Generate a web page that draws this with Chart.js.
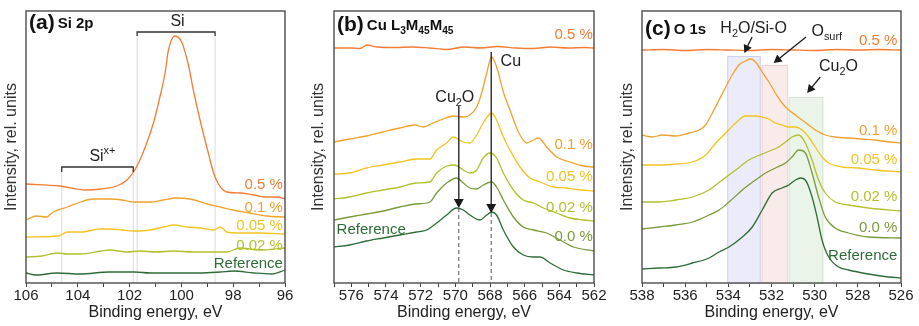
<!DOCTYPE html>
<html>
<head>
<meta charset="utf-8">
<script src="https://cdn.jsdelivr.net/npm/chart.js@4.4.1/dist/chart.umd.min.js"></script>
<style>
  html, body { margin: 0; padding: 0; background: #fff; }
  #wrap { position: relative; width: 919px; height: 326px; overflow: hidden; }
  canvas { position: absolute; top: 0; }
</style>
</head>
<body>
<div id="wrap">
  <canvas id="si" width="300" height="326" style="left:0;width:300px;height:326px"></canvas>
  <canvas id="cu" width="310" height="326" style="left:300px;width:310px;height:326px"></canvas>
  <canvas id="ox" width="310" height="326" style="left:609px;width:310px;height:326px"></canvas>
</div>
<script>
// ---- data (intensity in arbitrary, offset units) ----

// (a) Si 2p
const si05X = [106, 104.7, 103.7, 103.1, 102.5, 102.1, 101.85, 101.6, 101.34, 101.08, 100.83, 100.63, 100.5, 100.25, 99.99, 99.73, 99.54, 99.28, 99.02, 98.7, 98.25, 97.74, 97.22, 96.7, 96.3, 96];
const si05Y = [99, 97, 93, 94, 97, 103, 111, 123, 140, 160, 186, 210, 233, 247, 241, 218, 193, 163, 136, 106, 91, 90, 88, 86, 86, 84];
const si01X = [106, 105.6, 105.2, 104.95, 104.4, 103.9, 103.4, 102.76, 102.3, 101.87, 101.2, 100.7, 100.2, 99.67, 99.0, 98.5, 98.0, 97.35, 96.7, 96];
const si01Y = [63, 67, 66, 71, 76, 81, 84, 84, 83, 81, 81, 83, 85, 84, 79, 76, 73, 70, 67, 66];
const si005X = [106, 104.75, 104.4, 103.9, 103.1, 102.76, 102.3, 101.87, 101.2, 100.7, 100.3, 99.8, 99.28, 98.76, 98.5, 98.25, 97.74, 97, 96];
const si005Y = [46, 47, 51, 51, 54, 54, 53, 52, 53, 56, 58, 56, 55, 53, 56, 51, 50, 50, 49];
const si002X = [106, 105.4, 104.8, 104.4, 103.9, 103.1, 102.76, 102.1, 101.6, 101, 100.3, 99.54, 98.76, 98.25, 97.74, 97, 96];
const si002Y = [26, 27, 30, 29, 29, 32, 33, 31, 32, 31, 32, 31, 31, 31, 35, 33, 35];
const siRefX = [106, 105.6, 104.8, 103.9, 102.8, 101.8, 101.2, 100.3, 99.3, 98.5, 98, 97.2, 96.5, 96];
const siRefY = [10, 8, 10, 9, 11, 11, 10, 10, 10, 11, 12, 10, 9, 13];

// (b) Cu L3M45M45
const cu05X = [577, 576, 575.5, 575.1, 574.5, 573.5, 572.5, 571.5, 570.5, 569.5, 568.5, 567.6, 566.5, 565.5, 564.5, 563.5, 562.5, 562];
const cu05Y = [235, 235, 234.5, 238, 236, 235.5, 236, 235, 233.5, 236, 235, 236.5, 235, 234.5, 236, 235, 235.5, 235];
const cu01X = [577, 576.1, 575.13, 574.17, 573.2, 572.34, 571.86, 571.28, 570.7, 570.12, 569.54, 569.16, 568.77, 568.48, 568.19, 567.91, 567.62, 567.23, 566.85, 566.36, 565.88, 565.5, 565.21, 564.73, 564.15, 563.38, 562.61, 562];
const cu01Y = [141, 144, 147, 151, 155, 158, 156, 160, 164, 167, 166, 168, 176, 190, 210, 226, 216, 191, 173, 151, 140, 143, 145, 136, 126, 121, 117, 116];
const cu005X = [577, 576.1, 575.13, 574.17, 573.2, 572.24, 571.47, 571.08, 570.5, 570.12, 569.54, 569.16, 568.77, 568.39, 567.91, 567.62, 567.23, 566.85, 566.27, 565.69, 565.11, 564.34, 563.57, 562.8, 562];
const cu005Y = [109, 110, 115, 118, 121, 124, 124, 133, 140, 146, 141, 140, 148, 160, 170, 163, 146, 133, 116, 105, 101, 96, 95, 93, 92];
const cu002X = [577, 576.1, 575.13, 574.17, 573.2, 572.24, 571.47, 571.08, 570.5, 570.03, 569.54, 569.16, 568.77, 568.39, 568.0, 567.62, 567.23, 566.65, 566.08, 565.5, 564.92, 564.15, 563.38, 562.61, 562];
const cu002Y = [84, 86, 90, 93, 96, 100, 101, 110, 117, 118, 113, 110, 113, 125, 130, 125, 110, 93, 83, 80, 75, 70, 65, 63, 62];
const cu00X = [577, 576.1, 575.13, 574.17, 573.2, 572.24, 571.47, 571.08, 570.5, 569.93, 569.54, 569.16, 568.77, 568.39, 567.91, 567.62, 567.23, 566.65, 566.08, 565.5, 564.73, 563.96, 563.18, 562];
const cu00Y = [63, 66, 69, 72, 76, 79, 81, 90, 100, 105, 100, 95, 94, 98, 101, 96, 83, 66, 56, 53, 50, 43, 36, 32];
const cuRefX = [577, 576.1, 575.13, 574.17, 573.2, 572.24, 571.66, 571.08, 570.5, 569.93, 569.54, 569.16, 568.58, 568.19, 567.91, 567.62, 567.23, 566.65, 566.08, 565.5, 565.11, 564.53, 563.76, 562.99, 562];
const cuRefY = [36, 38, 42, 45, 48, 51, 53, 60, 68, 75, 73, 68, 63, 68, 71, 68, 53, 36, 28, 26, 26, 20, 13, 10, 8];

// (c) O 1s
const ox05X = [538, 537, 536, 535, 534, 533, 532, 531, 530, 529, 528, 527, 526];
const ox05Y = [233, 233.5, 232.5, 233.5, 233, 232.5, 233.5, 233, 232.5, 233.5, 233, 233.5, 233];
const ox01X = [538, 537.51, 537.05, 536.43, 535.82, 535.35, 535.05, 534.74, 534.43, 534.12, 533.82, 533.51, 533.2, 532.97, 532.74, 532.43, 532.12, 531.82, 531.51, 531.2, 530.89, 530.58, 530.28, 529.97, 529.51, 529.05, 528.43, 527.82, 527.2, 526.58, 526];
const ox01Y = [148, 146, 148, 147, 150, 153, 158, 170, 183, 196, 208, 218, 222, 224, 221, 211, 201, 190, 180, 173, 168, 163, 158, 153, 148, 146, 145, 144, 143, 141, 140];
const ox005X = [538, 537.2, 536.43, 535.66, 535.05, 534.58, 534.12, 533.66, 533.2, 532.74, 532.43, 532.12, 531.82, 531.51, 531.2, 530.89, 530.58, 530.28, 529.97, 529.66, 529.35, 528.74, 527.97, 527.2, 526];
const ox005Y = [118, 118, 119, 121, 128, 140, 150, 160, 167, 167, 166, 164, 160, 158, 156, 156, 153, 146, 136, 126, 120, 116, 115, 113, 111];
const ox002X = [538, 537.2, 536.43, 535.66, 534.89, 534.28, 533.66, 533.05, 532.43, 531.97, 531.66, 531.35, 531.05, 530.74, 530.43, 530.12, 529.82, 529.51, 529.05, 528.43, 527.51, 526];
const ox002Y = [81, 81, 83, 86, 93, 103, 113, 123, 129, 133, 136, 141, 146, 148, 140, 123, 103, 90, 81, 78, 75, 72];
const ox00X = [538, 537.2, 536.43, 535.66, 534.89, 534.43, 533.97, 533.35, 532.74, 532.28, 531.82, 531.35, 531.05, 530.74, 530.43, 530.12, 529.82, 529.51, 529.05, 528.43, 527.51, 526];
const ox00Y = [54, 56, 58, 61, 68, 73, 81, 93, 103, 110, 115, 120, 126, 133, 130, 110, 86, 66, 55, 50, 46, 45];
const oxRefX = [538, 537.2, 536.43, 535.66, 534.89, 534.43, 533.97, 533.35, 532.89, 532.43, 531.97, 531.51, 531.2, 530.89, 530.66, 530.43, 530.12, 529.89, 529.66, 529.35, 528.89, 528.43, 527.51, 526.58, 526];
const oxRefY = [14, 15, 16, 20, 25, 31, 36, 46, 56, 73, 90, 95, 98, 103, 105, 103, 86, 66, 43, 26, 16, 13, 9, 6, 5];

const seriesLabels = ['0.5 %', '0.1 %', '0.05 %', '0.02 %', '0.0 %', 'Reference'];

// ---- styling ----
const family = '"Liberation Sans", Arial, Helvetica, sans-serif';
const colors = ['#f47c35', '#f0a22e', '#f2c421', '#b3c02e', '#7a9a3b', '#2f6b37'];
const inkDark = '#222';

function series(xs, ys, color) {
  return {
    data: xs.map((x, i) => ({ x: x, y: ys[i] })),
    borderColor: color,
    borderWidth: 1.3,
    pointRadius: 0,
    cubicInterpolationMode: 'monotone',
    fill: false
  };
}

function drawRich(ctx, parts, x, y, size, color, align, bold) {
  const fontFor = k => (bold ? 'bold ' : '') + (k ? size * 0.68 : size) + 'px ' + family;
  let w = 0;
  parts.forEach(([t, k]) => { ctx.font = fontFor(k); w += ctx.measureText(t).width; });
  let cx = align === 'right' ? x - w : align === 'center' ? x - w / 2 : x;
  ctx.fillStyle = color;
  ctx.textAlign = 'left';
  ctx.textBaseline = 'middle';
  parts.forEach(([t, k]) => {
    ctx.font = fontFor(k);
    const dy = k === 'sub' ? size * 0.32 : k === 'sup' ? -size * 0.36 : 0;
    ctx.fillText(t, cx, y + dy);
    cx += ctx.measureText(t).width;
  });
  return cx;
}

function arrowHead(ctx, x1, y1, x2, y2, head, color) {
  const a = Math.atan2(y2 - y1, x2 - x1);
  const c = Math.cos(a), s = Math.sin(a);
  ctx.strokeStyle = color;
  ctx.fillStyle = color;
  ctx.lineWidth = 1.3;
  ctx.setLineDash([]);
  ctx.beginPath();
  ctx.moveTo(x1, y1);
  ctx.lineTo(x2 - c * head * 0.8, y2 - s * head * 0.8);
  ctx.stroke();
  ctx.beginPath();
  ctx.moveTo(x2, y2);
  ctx.lineTo(x2 - head * c + head * 0.55 * s, y2 - head * s - head * 0.55 * c);
  ctx.lineTo(x2 - head * c - head * 0.55 * s, y2 - head * s + head * 0.55 * c);
  ctx.closePath();
  ctx.fill();
}

// annotations are given in data units and placed through the chart's scales
function notesPlugin(notes) {
  return {
    id: 'notes',
    beforeDatasetsDraw(chart) {
      const { ctx, chartArea: area, scales: { x, y } } = chart;
      ctx.save();
      (notes.boxes || []).forEach(b => {
        const x1 = x.getPixelForValue(b.from), x2 = x.getPixelForValue(b.to);
        const yt = y.getPixelForValue(b.top);
        ctx.fillStyle = b.fill;
        ctx.fillRect(Math.min(x1, x2), yt, Math.abs(x2 - x1), area.bottom - yt);
        ctx.strokeStyle = b.stroke;
        ctx.lineWidth = 1;
        ctx.strokeRect(Math.min(x1, x2) + 0.5, yt + 0.5, Math.abs(x2 - x1) - 1, area.bottom - yt);
      });
      (notes.guides || []).forEach(g => {
        const gx = x.getPixelForValue(g.x);
        ctx.strokeStyle = '#dcdcdc';
        ctx.lineWidth = 1;
        ctx.beginPath();
        ctx.moveTo(gx, y.getPixelForValue(g.from));
        ctx.lineTo(gx, area.bottom);
        ctx.stroke();
      });
      ctx.restore();
    },
    afterDatasetsDraw(chart) {
      const { ctx, chartArea: area, scales: { x, y } } = chart;
      ctx.save();
      // brackets
      (notes.brackets || []).forEach(b => {
        const x1 = x.getPixelForValue(b.from), x2 = x.getPixelForValue(b.to);
        const yy = y.getPixelForValue(b.y), yd = y.getPixelForValue(b.y - b.drop);
        ctx.strokeStyle = '#333';
        ctx.lineWidth = 1.3;
        ctx.beginPath();
        ctx.moveTo(x1, yd); ctx.lineTo(x1, yy); ctx.lineTo(x2, yy); ctx.lineTo(x2, yd);
        ctx.stroke();
      });
      // arrows, with an optional dashed drop line to the axis
      (notes.arrows || []).forEach(a => {
        const x1 = x.getPixelForValue(a.x1), y1 = y.getPixelForValue(a.y1);
        const x2 = x.getPixelForValue(a.x2), y2 = y.getPixelForValue(a.y2);
        if (a.dashed) {
          ctx.strokeStyle = '#555';
          ctx.lineWidth = 1;
          ctx.setLineDash([4, 3]);
          ctx.beginPath();
          ctx.moveTo(x2, y2); ctx.lineTo(x2, area.bottom);
          ctx.stroke();
          ctx.setLineDash([]);
        }
        arrowHead(ctx, x1, y1, x2, y2, a.head, '#1a1a1a');
      });
      // text labels
      (notes.texts || []).forEach(t => {
        drawRich(ctx, t.parts, x.getPixelForValue(t.x), y.getPixelForValue(t.y), t.size || 15, t.color || '#222', t.align || 'center', false);
      });
      // frame
      ctx.strokeStyle = '#4d4d4d';
      ctx.lineWidth = 1.4;
      ctx.strokeRect(area.left, area.top, area.right - area.left, area.bottom - area.top);
      // panel tag
      const end = drawRich(ctx, [[notes.tag, '']], area.left + 3, area.top + notes.tagY, 21, '#111', 'left', true);
      drawRich(ctx, notes.name, end + 3, area.top + notes.tagY + 1, 15, '#111', 'left', true);
      ctx.restore();
    }
  };
}

function makePanel(id, p) {
  return new Chart(document.getElementById(id), {
    type: 'line',
    data: { datasets: p.datasets },
    options: {
      responsive: false,
      animation: false,
      layout: { padding: { left: 0, top: 11, right: p.padRight, bottom: 0 } },
      plugins: { legend: { display: false }, tooltip: { enabled: false } },
      scales: {
        x: {
          type: 'linear',
          min: p.min,
          max: p.max,
          reverse: true,
          border: { display: false },
          grid: { drawOnChartArea: false, drawTicks: true, tickLength: 4, color: '#444', tickColor: '#444' },
          ticks: {
            stepSize: 1,
            autoSkip: false,
            maxRotation: 0,
            padding: 0,
            color: inkDark,
            font: { size: 15, family: family },
            callback: v => (v % 2 === 0 ? String(v) : '')
          },
          title: {
            display: true,
            text: 'Binding energy, eV',
            color: inkDark,
            font: { size: 16, family: family },
            padding: { top: 0, bottom: 3.4 }
          },
          afterFit(s) { s.height = 43; }
        },
        y: {
          min: 0,
          max: 272,
          border: { display: false },
          grid: { display: false },
          ticks: { display: false },
          title: {
            display: true,
            text: 'Intensity, rel. units',
            color: '#333',
            font: { size: 16, family: family },
            padding: { top: p.titlePad, bottom: 0 }
          },
          afterFit(s) { s.width = p.yWidth; }
        }
      }
    },
    plugins: [notesPlugin(p.notes)]
  });
}

function labelTexts(xAt, align, ys, colorsUsed, names) {
  return names.map((n, i) => ({ x: xAt, y: ys[i], parts: [[n, '']], color: colorsUsed[i], align: align }));
}

// (a)
makePanel('si', {
  min: 96, max: 106, yWidth: 26, padRight: 15, titlePad: 2.4,
  datasets: [
    series(si05X, si05Y, colors[0]),
    series(si01X, si01Y, colors[1]),
    series(si005X, si005Y, colors[2]),
    series(si002X, si002Y, colors[3]),
    series(siRefX, siRefY, colors[5])
  ],
  notes: {
    tag: '(a)', tagY: 12, name: [['Si 2p', '']],
    guides: [{ x: 101.71, from: 247 }, { x: 98.7, from: 247 }, { x: 104.62, from: 111 }, { x: 101.86, from: 111 }],
    brackets: [{ from: 101.71, to: 98.7, y: 251, drop: 4 }, { from: 104.62, to: 101.86, y: 116, drop: 5 }],
    texts: [
      { x: 100.15, y: 261, parts: [['Si', '']], size: 16 },
      { x: 103.05, y: 126, parts: [['Si', ''], ['x+', 'sup']], size: 16 }
    ].concat(labelTexts(96.08, 'right', [98, 75, 57, 37, 19],
      [colors[0], colors[1], colors[2], colors[3], colors[5]],
      [seriesLabels[0], seriesLabels[1], seriesLabels[2], seriesLabels[3], seriesLabels[5]]))
  }
});

// (b)
makePanel('cu', {
  min: 562, max: 577, yWidth: 34, padRight: 16, titlePad: 9.4,
  datasets: [
    series(cu05X, cu05Y, colors[0]),
    series(cu01X, cu01Y, colors[1]),
    series(cu005X, cu005Y, colors[2]),
    series(cu002X, cu002Y, colors[3]),
    series(cu00X, cu00Y, colors[4]),
    series(cuRefX, cuRefY, colors[5])
  ],
  notes: {
    tag: '(b)', tagY: 14, name: [['Cu L', ''], ['3', 'sub'], ['M', ''], ['45', 'sub'], ['M', ''], ['45', 'sub']],
    arrows: [
      { x1: 567.93, y1: 231, x2: 567.93, y2: 70, head: 9, dashed: true },
      { x1: 569.8, y1: 177, x2: 569.8, y2: 75, head: 9, dashed: true }
    ],
    texts: [
      { x: 566.8, y: 221, parts: [['Cu', '']], size: 16 },
      { x: 570.03, y: 185, parts: [['Cu', ''], ['2', 'sub'], ['O', '']], size: 16 },
      { x: 576.85, y: 53, parts: [[seriesLabels[5], '']], color: colors[5], align: 'left' }
    ].concat(labelTexts(562.07, 'right', [248, 138, 106, 75, 46],
      colors.slice(0, 5), seriesLabels.slice(0, 5)))
  }
});

// (c)
makePanel('ox', {
  min: 526, max: 538, yWidth: 33, padRight: 18, titlePad: 9.4,
  datasets: [
    series(ox05X, ox05Y, colors[0]),
    series(ox01X, ox01Y, colors[1]),
    series(ox005X, ox005Y, colors[2]),
    series(ox002X, ox002Y, colors[3]),
    series(ox00X, ox00Y, colors[4]),
    series(oxRefX, oxRefY, colors[5])
  ],
  notes: {
    tag: '(c)', tagY: 18, name: [['O 1s', '']],
    boxes: [
      { from: 534.05, to: 532.5, top: 227, fill: '#ebebf9', stroke: '#cfcfee' },
      { from: 532.46, to: 531.23, top: 218, fill: '#f9ebe9', stroke: '#efd2cd' },
      { from: 531.2, to: 529.6, top: 186, fill: '#eaf4e8', stroke: '#d3e6cf' }
    ],
    arrows: [
      { x1: 532.9, y1: 246, x2: 533.26, y2: 230, head: 8 },
      { x1: 530.4, y1: 246, x2: 531.9, y2: 220, head: 8 },
      { x1: 529.74, y1: 206, x2: 530.35, y2: 190, head: 8 }
    ],
    texts: [
      { x: 532.83, y: 254, parts: [['H', ''], ['2', 'sub'], ['O/Si-O', '']], size: 16 },
      { x: 529.44, y: 251, parts: [['O', ''], ['surf', 'sub']], size: 16 },
      { x: 528.9, y: 216, parts: [['Cu', ''], ['2', 'sub'], ['O', '']], size: 16 }
    ].concat(labelTexts(526.17, 'right', [242, 152, 123, 86, 55, 27], colors, seriesLabels))
  }
});
</script>
</body>
</html>
